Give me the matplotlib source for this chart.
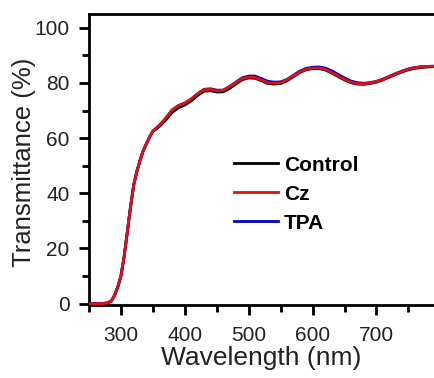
# Transmittance spectra of the three films
import matplotlib.pyplot as plt

plt.rcParams['font.family'] = ['Liberation Sans', 'DejaVu Sans']

# Wavelength (nm)
wavelength = [250, 260, 270, 280, 285, 290, 295, 300, 305, 310, 315, 320, 325, 330, 335,
              340, 345, 350, 355, 360, 370, 380, 390, 400, 410, 420, 430, 440, 450, 460,
              470, 480, 490, 500, 510, 520, 530, 540, 550, 560, 570, 580, 590, 600, 610,
              620, 630, 640, 650, 660, 670, 680, 690, 700, 710, 720, 730, 740, 750, 760,
              770, 780, 790]

# Transmittance (%)
control = [0, 0, 0, 0.3, 1, 3, 6, 10, 17, 26, 35, 43, 48, 52, 55.5,
           58, 60.5, 62.5, 63.3, 64.2, 66.5, 69.3, 71, 72, 73.5, 75.5, 77, 77.2, 76.7, 76.8,
           78, 79.6, 81.2, 81.8, 81.7, 80.8, 79.8, 79.6, 79.8, 80.8, 82.3, 83.8, 84.8, 85.2, 85.2,
           84.7, 83.6, 82.3, 81.1, 80.1, 79.6, 79.5, 79.8, 80.3, 81.1, 82.1, 83.1, 84, 84.8, 85.3,
           85.6, 85.8, 85.9]
cz = [0, 0, 0, 0.3, 1, 3, 6, 10, 17, 26, 35, 43, 48, 52, 55.5,
      58, 60.5, 62.5, 63.6, 64.6, 67.2, 70.2, 71.8, 72.7, 74.2, 76.1, 77.6, 77.7, 77.2, 77.3,
      78.6, 80.1, 81.6, 82.1, 82, 81.1, 80.1, 79.9, 80.1, 81.1, 82.6, 84, 85, 85.4, 85.4,
      84.9, 83.8, 82.5, 81.3, 80.3, 79.8, 79.7, 80, 80.5, 81.3, 82.3, 83.3, 84.2, 85, 85.5,
      85.8, 86, 86]
tpa = [0, 0, 0, 0.3, 1, 3, 6, 10, 17, 26, 35, 43, 48, 52, 55.5,
       58, 60.5, 62.5, 63.6, 64.6, 67.2, 70.2, 71.8, 72.7, 74.2, 76.1, 77.7, 77.9, 77.4, 77.4,
       78.7, 80.3, 81.9, 82.5, 82.5, 81.6, 80.6, 80.3, 80.4, 81.3, 82.8, 84.3, 85.3, 85.7, 85.8,
       85.4, 84.4, 83.1, 81.8, 80.7, 80.1, 79.9, 80.1, 80.6, 81.4, 82.4, 83.4, 84.3, 85.1, 85.6,
       85.9, 86, 86.1]

fig = plt.figure(figsize=(4.34, 3.78), dpi=100)
ax = fig.add_axes([0.205, 0.193, 0.795, 0.77])

ax.plot(wavelength, control, color='black', lw=2, label='Control')
ax.plot(wavelength, tpa, color='#0000cc', lw=2, label='TPA', zorder=2)
ax.plot(wavelength, cz, color='#e01010', lw=2, label='Cz', zorder=3)

ax.set_xlim(250, 790)
ax.set_ylim(-0.5, 105)
ax.set_xticks([300, 400, 500, 600, 700])
ax.set_xticks(range(250, 800, 100), minor=True)
ax.set_yticks([0, 20, 40, 60, 80, 100])
ax.set_yticks(range(10, 100, 20), minor=True)
ax.tick_params(which='major', direction='out', length=7, width=2, labelsize=15,
               labelcolor='#222222')
ax.tick_params(axis='x', which='major', pad=8)
ax.tick_params(axis='y', which='major', pad=7)
ax.tick_params(which='minor', direction='out', length=5, width=2)
for side in ['left', 'bottom', 'top']:
    ax.spines[side].set_linewidth(2)
ax.spines['right'].set_visible(False)

ax.set_xlabel('Wavelength (nm)', fontsize=19, color='#222222', labelpad=1)
ax.set_ylabel('Transmittance (%)', fontsize=18.5, color='#222222')
ax.yaxis.set_label_coords(-0.153, 0.49)

handles, labels = ax.get_legend_handles_labels()
order = [0, 2, 1]
ax.legend([handles[i] for i in order], [labels[i] for i in order],
          loc='center left', bbox_to_anchor=(0.42, 0.381), frameon=False,
          borderaxespad=0, borderpad=0,
          prop={'weight': 'bold', 'size': 15}, handlelength=2.1, handletextpad=0.3,
          labelspacing=0.48)

plt.savefig('out.png', dpi=100)
